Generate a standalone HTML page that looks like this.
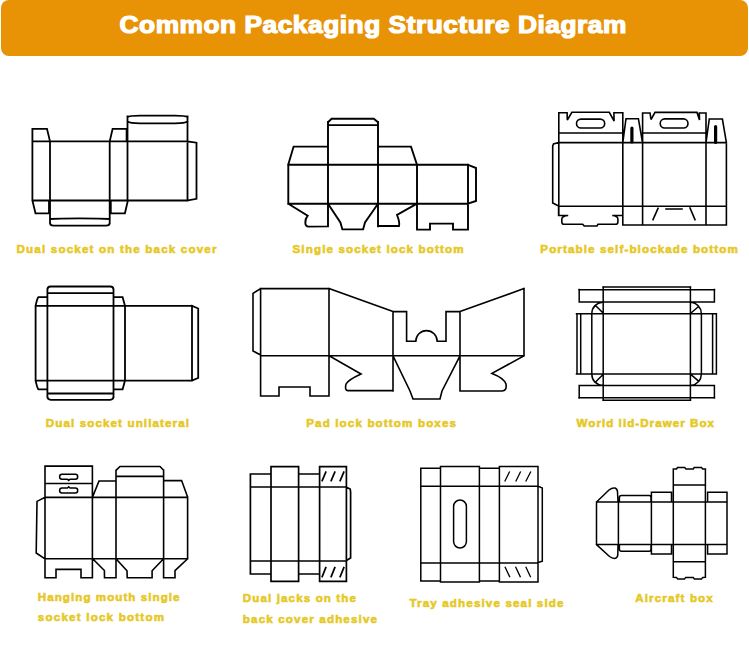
<!DOCTYPE html>
<html><head><meta charset="utf-8">
<style>
html,body{margin:0;padding:0;background:#fff;width:749px;height:655px;overflow:hidden}
#banner{position:absolute;left:1px;top:0px;width:746.5px;height:55.5px;background:#E89205;border-radius:8px}
#title{position:absolute;left:0;top:0;width:749px;height:55px}
svg{position:absolute;left:0;top:0}
.d{fill:none;stroke:#000;stroke-width:2;stroke-linejoin:miter;stroke-miterlimit:2.5;stroke-linecap:square}
.lb{font-family:"Liberation Sans",sans-serif;font-weight:bold;font-size:11.6px;fill:#E6C826;stroke:#E6C826;stroke-width:0.6}
</style></head><body>
<div id="banner"></div>
<svg id="title" width="749" height="60"><text x="106.79" y="33.1" textLength="452.50" lengthAdjust="spacing" transform="scale(1.12,1)" style="font-family:'Liberation Sans',sans-serif;font-weight:bold;font-size:23.5px;fill:#fff;stroke:#fff;stroke-width:1.2">Common Packaging Structure Diagram</text></svg>
<svg width="749" height="655" class="d">
<g stroke-width="1.8"><!-- D1 Dual socket on the back cover -->
<path d="M32.4,141.4 L32.4,200.5 M32.4,141.4 L32.4,128.8 L47,128.8 L50,141.4 M32.4,200.5 L35.5,213.3 L49,213.3 L49,200.5 M32.4,141.4 L187.5,141.4 M32.4,200.5 L187.5,200.5 M50,141.4 L50,223 M109.7,141.4 L109.7,223 M50,219 C60,218.2 99.4,218.2 109.7,219 M50,219 L50,223 Q50,225.6 53.5,225.6 L106,225.6 Q109.7,225.6 109.7,223 L109.7,219 M109.7,141.4 L112.6,128.8 L126.6,128.8 L126.6,141.4 M110.8,200.5 L110.8,213.3 L124.9,213.3 L127.9,200.5 M127.5,116.5 L127.5,200.5 M187.5,116.5 L187.5,200.5 M127.5,121.5 C129.5,123 133,123.3 140,123.3 L175,123.3 C182,123.3 185.5,123 187.5,121.5 M127.5,117 C129,115.8 133,115.6 140,115.6 L175,115.6 C182,115.6 186,115.8 187.5,117 M187.5,141.4 L196.5,142.7 L196.5,198.8 L187.5,200.5"/>
</g><g stroke-width="1.9"><!-- D2 Single socket lock bottom -->
<path d="M328,146.6 L328,122.2 L331.6,118.7 L373.8,118.7 L378,122.2 L378,146.6 M328,125.1 L378,125.1 M328,122 L328,226.4 M378,122 L378,226.4 M328,146.6 L293.6,146.6 L288.2,164.8 M288.2,164.8 L468,164.8 M288.3,164.8 L288.3,203.7 M288.3,203.7 L468,203.7 M288.3,203.7 L307.7,215.7 Q305,219 305.3,223 Q305.5,226.6 308.5,226.6 L328,226.4 M328,203.7 L340.4,222.4 L342.4,229.4 L363.1,229.4 L365,222.4 L378,203.7 M378,146.6 L411,146.6 L417,164.8 M417,164.8 L417,229.6 M378,226 L399,226 Q400,222 397,215 L417,203.7 M417,229.6 L430,229.6 L430,223.6 L453,223.6 L453,229.6 L468,229.6 L468,164.8 M468,164.8 L476,168 L476,201 L468,203.5"/>
</g><g stroke-width="1.6"><!-- D3 Portable self-blockade bottom -->
<path d="M558.8,142.6 L553.5,144 L552.7,146 L552.7,203 L558.6,206 M558.8,112.7 L558.8,215.5 M558.8,112.7 L567.1,112.7 L567.3,120 L571.9,112.3 L609.3,112.3 L614.1,121 L613.9,112.7 L622.8,112.7 M558.8,133 L622.8,133 M642.6,133 L706,133 M558.8,142.6 L726.4,142.6 M622.8,112.7 L622.8,225 M622.8,142.5 L626,118.7 L638.4,118.7 L642.5,142.5 M642.6,113 L642.6,225 M642.6,113 L650,113 L651,119.5 L655,112.4 L697,112.4 L699.5,120 L699.3,113 L706,113 M706,113 L706,225 M706,142.6 L709.3,119 L722.4,119 L726.4,142.6 M726.4,142.6 L726.4,225 M558.6,206.2 L726.4,206.2 M622.8,225 L726.4,225 M558.6,206.2 L558.6,215.5 L568.2,215.5 Q562,216 561.8,219 L561.8,222 Q561.8,224.3 564.2,224.3 L582.7,224.3 L584.2,226 L597,226 L598,224.3 L615.5,224.3 Q617.9,224.3 617.9,222 L617.9,219 Q617.9,216 612.3,215.5 L622.8,215.5 M653,219.6 L658,208.4 M666,209 L682,209 M690,208 L695,219.6"/>
<rect x="576.5" y="119.1" width="28.2" height="8.9" rx="4.45"/>
<rect x="660.2" y="118.9" width="27.8" height="9.1" rx="4.5"/>
<path d="M631.9,128 L631.9,141.9 M715.6,126.5 L715.6,142.4" style="stroke-width:3.2;stroke-linecap:round"/>
</g><g stroke-width="1.8"><!-- D4 Dual socket unilateral -->
<path d="M47.4,289.5 L47.4,397 M113.5,289.5 L113.5,397 M47.4,293.2 L47.4,289.8 Q47.4,286.5 50.8,286.5 L110.2,286.5 Q113.5,286.5 113.5,289.8 L113.5,293.2 M47.4,293.2 L113.5,293.2 M35.6,305.8 L192,305.8 M35.6,380.6 L192,380.6 M47.4,393.5 L113.5,393.5 M47.4,393.5 L47.4,396.6 Q47.4,399.8 50.8,399.8 L110.2,399.8 Q113.5,399.8 113.5,396.6 L113.5,393.5 M47.4,297.2 L38.4,297.2 Q37.2,298.5 35.6,305.8 L35.6,380.6 Q37.2,387.9 38.4,389.3 L47.4,389.3 M113.5,297.2 L122.6,297.2 L125,305.8 L125,380.6 L122.6,389.3 L113.5,389.3 M192,305.8 L192,380.6 M192,305.8 L198.2,308.5 L198.2,378 L192,380.6"/>
</g><g stroke-width="1.6"><!-- D5 Pad lock bottom boxes -->
<path d="M260.6,288.6 L253,293.4 L253,351 L260.6,355 M260.6,288.6 L260.6,396 M260.6,288.6 L329,288.6 M329,288.6 L329,396 M329,288.6 L393,311.6 M260.6,355.8 L524,355.8 M260.6,396 L279,396 L279,387 L310,387 L310,396 L329,396 M329,355.8 L361,374 Q348,380 346,384 Q344.5,390.6 348,390.6 L393,390.6 M393,311.6 L393,391 M393,311.6 L406.6,311.6 L406.6,341.3 L415.8,341.3 A10.7,10.7 0 0 1 437.2,341.3 L446,341.3 L446,311.6 L460,311.6 M460,311.6 L460,391 M393,355.8 L410,391 L413,399 L440,399 L442,391 L460,355.8 M460,311.6 L524,288.6 M524,288.6 L524,355.8 M524,355.8 L492,373.4 Q504,378 506,384 Q507,391 502,391 L460,391"/>
</g><g stroke-width="1.5"><!-- D6 World lid-Drawer Box -->
<path d="M603.2,287.2 L603.2,400.1 M690.4,287.2 L690.4,400.1 M579.2,289.5 L579.2,302.1 M714.4,289.5 L714.4,302.1 M579.2,302.1 L714.4,302.1 M576.5,313.8 L716.4,313.8 M577,313.8 L577,374 M580.7,313.8 L580.7,374 M603.2,302.1 Q592,304 591.8,313.8 L591.8,374 Q592,384 603.2,385.6 M596.3,306.3 L602.8,312.8 M596.3,381.3 L602.8,374.8 M576.5,374 L716.4,374 M579.2,385.6 L714.4,385.6 M579.2,385.6 L579.2,397.8 M714.4,385.6 L714.4,397.8 M690.4,302.1 Q701,304 701.4,313.8 L701.4,374 Q701,384 690.4,385.6 M691,313 L698,307 M691,374.6 L698,380.6 M712.6,313.8 L712.6,374 M716.4,313.8 L716.4,374"/>
<path d="M603.2,287.1 L690.4,287.1 M579.2,289.8 L714.4,289.8 M579.2,397.8 L714.4,397.8 M603.2,400.2 L690.4,400.2" style="stroke-width:1.5"/>
</g><g stroke-width="1.6"><!-- D7 Hanging mouth single socket lock bottom -->
<path d="M45,497.4 L45,466.1 L92.4,466.1 L92.4,497.4 M45,483.5 L92.4,483.5 M45,497.4 L37,501.4 L36.2,553 L45,558.8 M45,466.1 L45,577.7 M92.4,466.1 L92.4,577.7 M45,497.4 L187.6,497.4 M45,558.8 L187.6,558.8 M45,577.7 L56,577.7 L56,569.4 L81,569.4 L81,577.7 L92.4,577.7 M92.4,497.4 L99,481 L116,481 M116,470.4 L116,577.7 M116,476.4 L116,470.4 L120,466.5 L160,466.5 L163.6,470.2 L163.6,476.4 M116,476.4 L163.6,476.4 M163.6,470 L163.6,577.7 M163.6,480.6 L181.6,480.6 L187.6,497 M187.6,497 L187.6,558.8 M92.7,558.8 L104.4,570.5 L104.5,577.7 L116,577.7 M116,558.8 L127,570.7 L127.2,577.7 L152.1,577.7 L152.1,570.7 L163.6,558.8 M163.6,577.7 L175,577.7 L175,570.7 L187.6,558.8"/>
<path d="M62,474.3 L67.8,474.3 M69.6,474.3 L75.4,474.3 Q77.7,474.3 77.7,476.75 Q77.7,479.2 75.4,479.2 L70,479.2 L68.7,480.4 L67.4,479.2 L62,479.2 Q59.6,479.2 59.6,476.75 Q59.6,474.3 62,474.3 L75.4,474.3" style="stroke-width:1.5"/>
<path d="M62,488 L67.4,488 L68.7,486.8 L70,488 L75.4,488 Q77.7,488 77.7,490.5 Q77.7,493 75.4,493 L62,493 Q59.6,493 59.6,490.5 Q59.6,488 62,488" style="stroke-width:1.5"/>
</g><g stroke-width="1.7"><!-- D8 Dual jacks -->
<path d="M271,474 L250.4,474 L250.4,574 L271,574 M271,466.6 L271,581.4 M298.6,466.6 L298.6,581.4 M319.6,466.6 L319.6,581.4 M346.4,466.6 L346.4,581.4 M271,466.6 L298.6,466.6 M319.6,466.6 L346.4,466.6 M298.6,474 L319.6,474 M250.4,487 L346.4,487 M250.4,561 L346.4,561 M298.6,574 L319.6,574 M271,581.4 L298.6,581.4 M319.6,581.4 L346.4,581.4 M346.4,487.3 L350.2,489 L350.6,492 L350.6,558 L346.4,560.5 M322.2,480.6 L325.8,472.2 M331.2,480.6 L334.8,472.2 M340.2,480.6 L343.8,472.2 M322.2,576.6 L325.8,567.6 M331.2,576.6 L334.8,567.6 M340.2,576.6 L343.8,567.6"/>
</g><g stroke-width="1.5"><!-- D9 Tray adhesive seal side -->
<path d="M440.5,468.3 L420.8,468.3 L420.8,581 L440.5,581 M440.5,466.6 L440.5,582 M479.4,466.6 L479.4,582 M499.4,466.6 L499.4,582 M538,466.6 L538,582 M440.5,466.6 L479.4,466.6 M499.4,466.6 L538,466.6 M479.4,468.3 L499.4,468.3 M420.8,486.2 L538,486.2 M420.8,563 L538,563 M479.4,581 L499.4,581 M440.5,582 L479.4,582 M499.4,582 L538,582 M538,486.2 L542.3,488 L542.3,561.2 L538,562.6"/>
<path d="M505,481 L509.4,472 M516,481 L520.4,472 M526,481 L530.6,472 M505.2,567.4 L509.6,576.6 M515.8,567.4 L520.2,576.6 M526,567.4 L530.4,576.6" stroke-width="1.3"/>
<rect x="453.6" y="500" width="12.8" height="48" rx="6.4"/>
</g><g stroke-width="1.5"><!-- D10 Aircraft box -->
<path d="M596.5,502 L596.5,544.6 M596.5,502 L609,490 Q612,487.5 615,488 Q617.5,489 617.5,492 L618,502 M596.5,544.6 L609.5,556.5 Q612.5,558.8 615.5,558.3 Q617.8,557.3 617.8,554.5 L618,544.6 M618.4,502 L618.4,544.6 M596.5,502 L727,502 M596.5,544.6 L727,544.6 M619.4,502 L619.4,497.5 Q619.4,495.6 621.5,495.6 L649,495.6 Q651,495.6 651,497.5 L651,502 M619.4,544.6 L619.4,549.2 Q619.4,551.2 621.5,551.2 L649,551.2 Q651,551.2 651,549.2 L651,544.6 M651.4,492.2 L651.4,553.9 M651.4,492.2 L671.5,492.2 L671.5,502 M651.4,553.9 L671.5,553.9 L671.5,544.6 M673.3,469 L673.3,577.3 M705.4,469 L705.4,577.3 M673.3,469 L676.5,469 L677.4,467.6 L684.7,467.6 L685.9,469 L693.3,469 L694.1,467.6 L701.5,467.6 L702.7,469 L705.4,469 M673.3,485.1 L705.4,485.1 M673.3,561.8 L705.4,561.8 M673.3,577.3 L676.5,577.4 L677.7,579.1 L684.5,579.1 L685.6,577.4 L693.3,577.4 L694.4,579.1 L701.5,579.1 L702.7,577.4 L705.4,577.3 M707.6,492.2 L707.6,502 M707.6,544.6 L707.6,553.9 M707.6,492.2 L727,492.2 L727,553.9 L707.6,553.9"/>
</g></svg>
<svg width="749" height="655" style="position:absolute;left:0;top:0">
<text class="lb" x="16.5" y="253.2" textLength="200" lengthAdjust="spacing">Dual socket on the back cover</text>
<text class="lb" x="292.5" y="253.2" textLength="171" lengthAdjust="spacing">Single socket lock bottom</text>
<text class="lb" x="540.3" y="253.2" textLength="197.5" lengthAdjust="spacing">Portable self-blockade bottom</text>
<text class="lb" x="45.8" y="426.7" textLength="143.2" lengthAdjust="spacing">Dual socket unilateral</text>
<text class="lb" x="306.2" y="426.7" textLength="149.8" lengthAdjust="spacing">Pad lock bottom boxes</text>
<text class="lb" x="576.5" y="426.6" textLength="137.5" lengthAdjust="spacing">World lid-Drawer Box</text>
<text class="lb" x="37.8" y="601.1" textLength="141.7" lengthAdjust="spacing">Hanging mouth single</text>
<text class="lb" x="37.8" y="621.4" textLength="126.2" lengthAdjust="spacing">socket lock bottom</text>
<text class="lb" x="242.8" y="601.7" textLength="113.2" lengthAdjust="spacing">Dual jacks on the</text>
<text class="lb" x="242.8" y="622.6" textLength="134.2" lengthAdjust="spacing">back cover adhesive</text>
<text class="lb" x="409.5" y="606.7" textLength="154" lengthAdjust="spacing">Tray adhesive seal side</text>
<text class="lb" x="635.2" y="602.4" textLength="77.6" lengthAdjust="spacing">Aircraft box</text>
</svg>
</body></html>
